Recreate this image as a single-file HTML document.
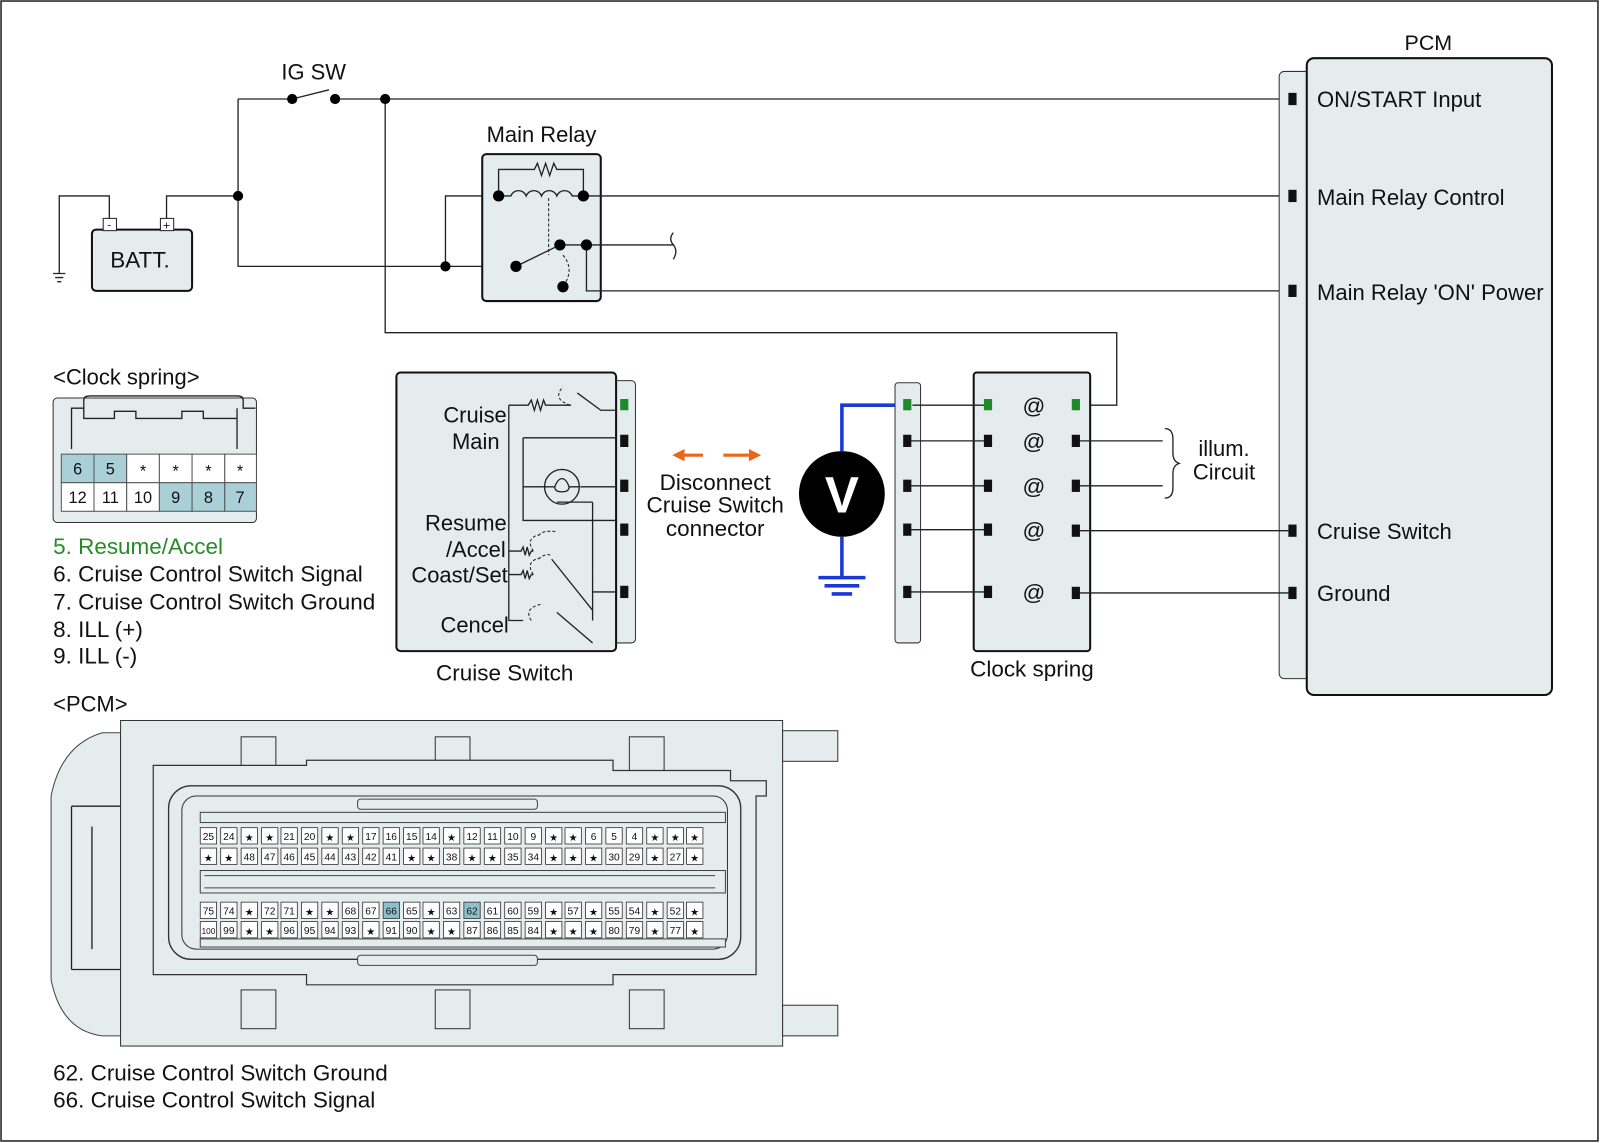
<!DOCTYPE html>
<html><head><meta charset="utf-8"><style>
html,body{margin:0;padding:0;background:#fff}
svg{display:block}
text{font-family:"Liberation Sans",sans-serif;fill:#111}
.w{stroke:#222;stroke-width:1.3;fill:none}
.b{fill:#e4ecee;stroke:#111;stroke-width:2}
.p{fill:#e4ecee;stroke:#333;stroke-width:1}
.c rect{fill:#fff;stroke:#333;stroke-width:0.8}
.c text{font-size:10px;text-anchor:middle}
</style></head><body>
<svg width="1600" height="1143" viewBox="0 0 1566 1120" preserveAspectRatio="none" xmlns="http://www.w3.org/2000/svg">
<rect x="1" y="1" width="1563" height="1117" fill="#fff" stroke="#222" stroke-width="1.5"/>

<!-- IG SW & top wires -->
<text x="307" y="78" font-size="21.5" text-anchor="middle">IG SW</text>
<path class="w" d="M233 97H286M286 97L322 88M328 97H1262M377 97V326H1093V397H1053"/>
<circle cx="286" cy="97" r="5"/><circle cx="328" cy="97" r="5"/><circle cx="377" cy="97" r="5"/>
<!-- battery -->
<rect x="90" y="225" width="98" height="60" rx="4" class="b" stroke-width="1.5"/>
<text x="137" y="262" font-size="22" text-anchor="middle">BATT.</text>
<rect x="101" y="214" width="13" height="12" fill="#fff" stroke="#222"/><text x="107" y="224" font-size="11" text-anchor="middle">-</text>
<rect x="157" y="214" width="13" height="12" fill="#fff" stroke="#222"/><text x="163" y="225" font-size="12" text-anchor="middle">+</text>
<path class="w" d="M107 214V192H58V268M52 268H64M54 272H62M56 276H60M163 214V192H233M233 97V261H505M436 261V192H488"/>
<circle cx="233" cy="192" r="5"/><circle cx="436" cy="261" r="5"/>
<!-- main relay -->
<text x="530" y="139" font-size="21.5" text-anchor="middle">Main Relay</text>
<rect x="472" y="151" width="116" height="144" rx="4" class="b"/>
<path class="w" d="M488 192V166H523l3-6 4 12 4-12 4 12 4-12 3 6H571V192M488 192H500a8 8 0 0 1 15 0a8 8 0 0 1 15 0a8 8 0 0 1 15 0a8 8 0 0 1 15 0H571M571 192H1262M505 261L548 240M548 240H660M574 240V285H1262"/>
<path d="M659 228q-5 6 0 12t0 14" class="w"/>
<path d="M537 194V250M551 250q12 14 0 31" stroke="#222" stroke-dasharray="3,2" fill="none"/>
<circle cx="488" cy="192" r="5.5"/><circle cx="571" cy="192" r="5.5"/><circle cx="505" cy="261" r="5.5"/><circle cx="548" cy="240" r="5.5"/><circle cx="574" cy="240" r="5.5"/><circle cx="551" cy="281" r="5.5"/>

<!-- PCM block -->
<text x="1398" y="49" font-size="21" text-anchor="middle">PCM</text>
<rect x="1252" y="70" width="40" height="595" rx="5" class="p"/>
<rect x="1279" y="57" width="240" height="624" rx="7" class="b"/>
<g fill="#111"><rect x="1261" y="91" width="8" height="12"/><rect x="1261" y="186" width="8" height="12"/><rect x="1261" y="279" width="8" height="12"/><rect x="1261" y="514" width="8" height="12"/><rect x="1261" y="575" width="8" height="12"/></g>
<g font-size="21.6"><text x="1289" y="105">ON/START Input</text><text x="1289" y="201">Main Relay Control</text><text x="1289" y="294">Main Relay 'ON' Power</text><text x="1289" y="528">Cruise Switch</text><text x="1289" y="589">Ground</text></g>

<!-- clock spring legend -->
<text x="52" y="377" font-size="21.5">&lt;Clock spring&gt;</text>
<rect x="52" y="390" width="199" height="122" rx="4" class="p"/>
<path class="w" d="M70 440V400H82V392q0-4 6-4H232q6 0 6 4V400H250M82 400V410H112V403H133V410H178V403H199V410H232V400M232 400V440"/>
<g font-size="16" text-anchor="middle">
<rect x="60" y="445" width="32" height="28" fill="#a9d0d6" stroke="#555"/><text x="76" y="465">6</text>
<rect x="92" y="445" width="32" height="28" fill="#a9d0d6" stroke="#555"/><text x="108" y="465">5</text>
<rect x="124" y="445" width="32" height="28" fill="#fff" stroke="#555"/><text x="140" y="467">*</text>
<rect x="156" y="445" width="32" height="28" fill="#fff" stroke="#555"/><text x="172" y="467">*</text>
<rect x="188" y="445" width="32" height="28" fill="#fff" stroke="#555"/><text x="204" y="467">*</text>
<rect x="220" y="445" width="31" height="28" fill="#fff" stroke="#555"/><text x="235" y="467">*</text>
<rect x="60" y="473" width="32" height="28" fill="#fff" stroke="#555"/><text x="76" y="493">12</text>
<rect x="92" y="473" width="32" height="28" fill="#fff" stroke="#555"/><text x="108" y="493">11</text>
<rect x="124" y="473" width="32" height="28" fill="#fff" stroke="#555"/><text x="140" y="493">10</text>
<rect x="156" y="473" width="32" height="28" fill="#a9d0d6" stroke="#555"/><text x="172" y="493">9</text>
<rect x="188" y="473" width="32" height="28" fill="#a9d0d6" stroke="#555"/><text x="204" y="493">8</text>
<rect x="220" y="473" width="31" height="28" fill="#a9d0d6" stroke="#555"/><text x="235" y="493">7</text>
</g>
<g font-size="22"><text x="52" y="543" style="fill:#2a8a2a">5. Resume/Accel</text><text x="52" y="570">6. Cruise Control Switch Signal</text><text x="52" y="597">7. Cruise Control Switch Ground</text><text x="52" y="624">8. ILL (+)</text><text x="52" y="650">9. ILL (-)</text></g>

<!-- cruise switch -->
<rect x="598" y="373" width="24" height="257" rx="4" class="p"/>
<rect x="388" y="365" width="215" height="273" rx="4" class="b"/>
<g font-size="21.5" text-anchor="end"><text x="496" y="414">Cruise</text><text x="489" y="440">Main</text><text x="496" y="520">Resume</text><text x="495" y="546">/Accel</text><text x="497" y="571">Coast/Set</text><text x="498" y="620">Cencel</text></g>
<path class="w" d="M498 397V608H512M498 397H517l3-5 3 10 3-10 3 10 3-10 2 5H559M565 385L588 402H604M512 429H604M512 429V510H604M512 477H533M568 477H604M498 540H510l2-4 2 8 2-8 2 8 2-4H522M498 563H510l2-4 2 8 2-8 2 8 2-4H522M540 548L580 598M580 492V608M545 492H580M580 580H604M545 600L580 630"/>
<path d="M558 397q-18-6-7-18M522 540q-8-12 5-16M522 563q-8-12 5-16M527 525q4-6 18-4M527 548q6-6 12-4M520 608q-8-12 10-16" stroke="#222" stroke-dasharray="3,2" fill="none"/>
<circle cx="550" cy="477" r="17" fill="none" stroke="#222" stroke-width="1.3"/><path d="M533 477h10q3-8 7-8t7 8q0 5-7 5t-7-5M557 477h10" class="w"/>
<rect x="607" y="391" width="8" height="11" fill="#1e8a2a"/>
<g fill="#111"><rect x="607" y="426" width="8" height="12"/><rect x="607" y="470" width="8" height="12"/><rect x="607" y="513" width="8" height="12"/><rect x="607" y="574" width="8" height="12"/></g>
<text x="494" y="667" font-size="22" text-anchor="middle">Cruise Switch</text>

<!-- disconnect -->
<path d="M668 446H688M708 446H733" stroke="#e8661a" stroke-width="3"/>
<path d="M658 446l12-6v12zM745 446l-12-6v12z" fill="#e8661a"/>
<g font-size="22" text-anchor="middle"><text x="700" y="480">Disconnect</text><text x="700" y="502">Cruise Switch</text><text x="700" y="525">connector</text></g>

<!-- voltmeter -->
<path d="M824 442V397H888M824 526V566M801 566H847M807 574H841M814 582H834" stroke="#1a3ad8" stroke-width="3.5" fill="none"/>
<circle cx="824" cy="484" r="42" fill="#000"/>
<text x="824" y="502" font-size="50" font-weight="bold" text-anchor="middle" style="fill:#fff">V</text>

<!-- strip & clock spring -->
<rect x="876" y="375" width="25" height="255" rx="3" class="p"/>
<rect x="953" y="365" width="114" height="273" rx="3" class="b"/>
<path class="w" d="M888 432H967M888 476H967M888 519H967M888 580H967M893 397H967M1053 432H1138M1053 476H1138M1053 520H1262M1053 581H1262"/>
<path d="M1140 420q8 0 8 10v14q0 8 6 10q-6 2-6 10v14q0 10-8 10" class="w"/>
<g font-size="21.5" text-anchor="middle"><text x="1198" y="447">illum.</text><text x="1198" y="470">Circuit</text></g>
<g fill="#1e8a2a"><rect x="884" y="391" width="8" height="11"/><rect x="963" y="391" width="8" height="11"/><rect x="1049" y="391" width="8" height="11"/></g>
<g fill="#111">
<rect x="884" y="426" width="8" height="12"/><rect x="884" y="470" width="8" height="12"/><rect x="884" y="513" width="8" height="12"/><rect x="884" y="574" width="8" height="12"/>
<rect x="963" y="426" width="8" height="12"/><rect x="963" y="470" width="8" height="12"/><rect x="963" y="513" width="8" height="12"/><rect x="963" y="574" width="8" height="12"/>
<rect x="1049" y="426" width="8" height="12"/><rect x="1049" y="470" width="8" height="12"/><rect x="1049" y="514" width="8" height="12"/><rect x="1049" y="575" width="8" height="12"/>
</g>
<g font-size="22" text-anchor="middle"><text x="1012" y="405">@</text><text x="1012" y="440">@</text><text x="1012" y="484">@</text><text x="1012" y="527">@</text><text x="1012" y="588">@</text></g>
<text x="1010" y="663" font-size="22" text-anchor="middle">Clock spring</text>

<!-- PCM connector -->
<text x="52" y="697" font-size="21.5">&lt;PCM&gt;</text>
<path d="M118 718H100Q60 730 50 780V960Q60 1010 100 1015H118Z" fill="#e4ecee" stroke="#444"/>
<path d="M70 790H118M70 950H118M70 790V950M90 810V930" class="w" stroke-width="1"/>
<rect x="118" y="706" width="648" height="319" class="p"/>
<rect x="766" y="716" width="54" height="30" class="p"/><rect x="766" y="985" width="54" height="30" class="p"/>
<rect x="236" y="722" width="34" height="38" class="p"/><rect x="426" y="722" width="34" height="38" class="p"/><rect x="616" y="722" width="34" height="38" class="p"/>
<rect x="236" y="970" width="34" height="38" class="p"/><rect x="426" y="970" width="34" height="38" class="p"/><rect x="616" y="970" width="34" height="38" class="p"/>
<path d="M150 750V955H300V965H600V955H740V780H750V765H715V755H600V745H300V750Z" fill="#e4ecee" stroke="#333" stroke-width="1.2"/>
<rect x="165" y="770" width="560" height="170" rx="22" fill="#e4ecee" stroke="#333" stroke-width="1.3"/>
<rect x="178" y="780" width="534" height="150" rx="14" fill="#e4ecee" stroke="#333"/>
<rect x="196" y="796" width="514" height="10" fill="#e4ecee" stroke="#444"/>
<rect x="196" y="853" width="514" height="22" fill="#e4ecee" stroke="#444"/>
<path d="M200 858H700M200 870H700" stroke="#444"/>
<rect x="196" y="920" width="514" height="8" fill="#e4ecee" stroke="#444"/>
<rect x="350" y="783" width="176" height="10" rx="3" fill="#e4ecee" stroke="#444"/>
<rect x="350" y="936" width="176" height="10" rx="3" fill="#e4ecee" stroke="#444"/>
<g class="c">
<g transform="translate(0,811)">
<rect x="196" width="16" height="16"/><text x="204" y="12">25</text><rect x="216" width="16" height="16"/><text x="224" y="12">24</text><rect x="236" width="16" height="16"/><text x="244" y="13">★</text><rect x="256" width="16" height="16"/><text x="264" y="13">★</text><rect x="275" width="16" height="16"/><text x="283" y="12">21</text><rect x="295" width="16" height="16"/><text x="303" y="12">20</text><rect x="315" width="16" height="16"/><text x="323" y="13">★</text><rect x="335" width="16" height="16"/><text x="343" y="13">★</text><rect x="355" width="16" height="16"/><text x="363" y="12">17</text><rect x="375" width="16" height="16"/><text x="383" y="12">16</text><rect x="395" width="16" height="16"/><text x="403" y="12">15</text><rect x="414" width="16" height="16"/><text x="422" y="12">14</text><rect x="434" width="16" height="16"/><text x="442" y="13">★</text><rect x="454" width="16" height="16"/><text x="462" y="12">12</text><rect x="474" width="16" height="16"/><text x="482" y="12">11</text><rect x="494" width="16" height="16"/><text x="502" y="12">10</text><rect x="514" width="16" height="16"/><text x="522" y="12">9</text><rect x="534" width="16" height="16"/><text x="542" y="13">★</text><rect x="553" width="16" height="16"/><text x="561" y="13">★</text><rect x="573" width="16" height="16"/><text x="581" y="12">6</text><rect x="593" width="16" height="16"/><text x="601" y="12">5</text><rect x="613" width="16" height="16"/><text x="621" y="12">4</text><rect x="633" width="16" height="16"/><text x="641" y="13">★</text><rect x="653" width="16" height="16"/><text x="661" y="13">★</text><rect x="672" width="16" height="16"/><text x="680" y="13">★</text>
</g>
<g transform="translate(0,831)">
<rect x="196" width="16" height="16"/><text x="204" y="13">★</text><rect x="216" width="16" height="16"/><text x="224" y="13">★</text><rect x="236" width="16" height="16"/><text x="244" y="12">48</text><rect x="256" width="16" height="16"/><text x="264" y="12">47</text><rect x="275" width="16" height="16"/><text x="283" y="12">46</text><rect x="295" width="16" height="16"/><text x="303" y="12">45</text><rect x="315" width="16" height="16"/><text x="323" y="12">44</text><rect x="335" width="16" height="16"/><text x="343" y="12">43</text><rect x="355" width="16" height="16"/><text x="363" y="12">42</text><rect x="375" width="16" height="16"/><text x="383" y="12">41</text><rect x="395" width="16" height="16"/><text x="403" y="13">★</text><rect x="414" width="16" height="16"/><text x="422" y="13">★</text><rect x="434" width="16" height="16"/><text x="442" y="12">38</text><rect x="454" width="16" height="16"/><text x="462" y="13">★</text><rect x="474" width="16" height="16"/><text x="482" y="13">★</text><rect x="494" width="16" height="16"/><text x="502" y="12">35</text><rect x="514" width="16" height="16"/><text x="522" y="12">34</text><rect x="534" width="16" height="16"/><text x="542" y="13">★</text><rect x="553" width="16" height="16"/><text x="561" y="13">★</text><rect x="573" width="16" height="16"/><text x="581" y="13">★</text><rect x="593" width="16" height="16"/><text x="601" y="12">30</text><rect x="613" width="16" height="16"/><text x="621" y="12">29</text><rect x="633" width="16" height="16"/><text x="641" y="13">★</text><rect x="653" width="16" height="16"/><text x="661" y="12">27</text><rect x="672" width="16" height="16"/><text x="680" y="13">★</text>
</g>
<g transform="translate(0,884)">
<rect x="196" width="16" height="16"/><text x="204" y="12">75</text><rect x="216" width="16" height="16"/><text x="224" y="12">74</text><rect x="236" width="16" height="16"/><text x="244" y="13">★</text><rect x="256" width="16" height="16"/><text x="264" y="12">72</text><rect x="275" width="16" height="16"/><text x="283" y="12">71</text><rect x="295" width="16" height="16"/><text x="303" y="13">★</text><rect x="315" width="16" height="16"/><text x="323" y="13">★</text><rect x="335" width="16" height="16"/><text x="343" y="12">68</text><rect x="355" width="16" height="16"/><text x="363" y="12">67</text><rect x="375" width="16" height="16" style="fill:#8fbfca"/><text x="383" y="12">66</text><rect x="395" width="16" height="16"/><text x="403" y="12">65</text><rect x="414" width="16" height="16"/><text x="422" y="13">★</text><rect x="434" width="16" height="16"/><text x="442" y="12">63</text><rect x="454" width="16" height="16" style="fill:#8fbfca"/><text x="462" y="12">62</text><rect x="474" width="16" height="16"/><text x="482" y="12">61</text><rect x="494" width="16" height="16"/><text x="502" y="12">60</text><rect x="514" width="16" height="16"/><text x="522" y="12">59</text><rect x="534" width="16" height="16"/><text x="542" y="13">★</text><rect x="553" width="16" height="16"/><text x="561" y="12">57</text><rect x="573" width="16" height="16"/><text x="581" y="13">★</text><rect x="593" width="16" height="16"/><text x="601" y="12">55</text><rect x="613" width="16" height="16"/><text x="621" y="12">54</text><rect x="633" width="16" height="16"/><text x="641" y="13">★</text><rect x="653" width="16" height="16"/><text x="661" y="12">52</text><rect x="672" width="16" height="16"/><text x="680" y="13">★</text>
</g>
<g transform="translate(0,903)">
<rect x="196" width="16" height="16"/><text x="204" y="12" style="font-size:8px">100</text><rect x="216" width="16" height="16"/><text x="224" y="12">99</text><rect x="236" width="16" height="16"/><text x="244" y="13">★</text><rect x="256" width="16" height="16"/><text x="264" y="13">★</text><rect x="275" width="16" height="16"/><text x="283" y="12">96</text><rect x="295" width="16" height="16"/><text x="303" y="12">95</text><rect x="315" width="16" height="16"/><text x="323" y="12">94</text><rect x="335" width="16" height="16"/><text x="343" y="12">93</text><rect x="355" width="16" height="16"/><text x="363" y="13">★</text><rect x="375" width="16" height="16"/><text x="383" y="12">91</text><rect x="395" width="16" height="16"/><text x="403" y="12">90</text><rect x="414" width="16" height="16"/><text x="422" y="13">★</text><rect x="434" width="16" height="16"/><text x="442" y="13">★</text><rect x="454" width="16" height="16"/><text x="462" y="12">87</text><rect x="474" width="16" height="16"/><text x="482" y="12">86</text><rect x="494" width="16" height="16"/><text x="502" y="12">85</text><rect x="514" width="16" height="16"/><text x="522" y="12">84</text><rect x="534" width="16" height="16"/><text x="542" y="13">★</text><rect x="553" width="16" height="16"/><text x="561" y="13">★</text><rect x="573" width="16" height="16"/><text x="581" y="13">★</text><rect x="593" width="16" height="16"/><text x="601" y="12">80</text><rect x="613" width="16" height="16"/><text x="621" y="12">79</text><rect x="633" width="16" height="16"/><text x="641" y="13">★</text><rect x="653" width="16" height="16"/><text x="661" y="12">77</text><rect x="672" width="16" height="16"/><text x="680" y="13">★</text>
</g>
</g>
<g font-size="22"><text x="52" y="1059">62. Cruise Control Switch Ground</text><text x="52" y="1085">66. Cruise Control Switch Signal</text></g>
</svg>
</body></html>
